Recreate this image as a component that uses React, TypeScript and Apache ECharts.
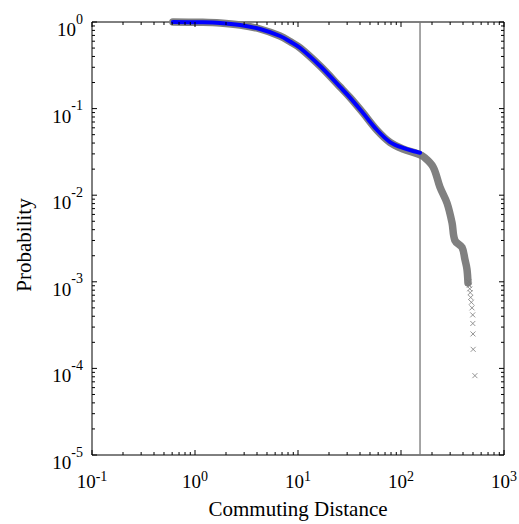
import React, { useEffect, useRef } from "react";
import * as echarts from "echarts";

// ---- data ----
const xTickValues = [0.1, 1, 10, 100, 1000];
const yTickValues = [1e-5, 1e-4, 1e-3, 1e-2, 1e-1, 1];
const tickMultipliers = [2, 3, 4, 5, 6, 7, 8, 9];

// empirical CCDF (dense grey band of markers)
const bandDistance = [0.61, 1.12, 1.75, 2.74, 4.28, 6.69, 8.36, 10.5, 16.4, 25.6, 32.0, 42.8, 58.5, 78.2, 104.6, 146, 167, 205, 239, 280, 313, 334, 391, 418, 437, 447];
const bandProbability = [1.0, 0.992, 0.974, 0.923, 0.83, 0.689, 0.595, 0.501, 0.31, 0.178, 0.134, 0.089, 0.0562, 0.0407, 0.0342, 0.0300, 0.0276, 0.0212, 0.0124, 0.0081, 0.0048, 0.003, 0.0025, 0.0018, 0.0014, 0.00097];

// sparse tail markers
const tailDistance = [455, 460, 465, 470, 475, 482, 489, 497, 498, 500, 502, 522];
const tailProbability = [0.001, 0.00091, 0.00083, 0.00075, 0.00066, 0.00058, 0.0005, 0.000415, 0.00033, 0.00025, 0.000166, 0.0000825];

// fitted curve (blue)
const fitDistance = [0.61, 1.12, 1.75, 2.74, 4.28, 6.69, 8.36, 10.5, 16.4, 25.6, 32.0, 42.8, 58.5, 78.2, 104.6, 146, 153];
const fitProbability = [1.0, 0.992, 0.974, 0.923, 0.83, 0.689, 0.595, 0.501, 0.31, 0.178, 0.134, 0.089, 0.0566, 0.0411, 0.0351, 0.0313, 0.031];

const cutoffDistance = 153;

const FONT = "'Liberation Serif', 'Times New Roman', serif";

function powLabel(v: number) {
  const e = Math.round(Math.log10(v));
  return `{b|10}{s|${e}}`;
}

const richX = {
  b: { fontSize: 19, fontFamily: FONT, color: "#000", lineHeight: 22, verticalAlign: "bottom" },
  s: { fontSize: 14, fontFamily: FONT, color: "#000", lineHeight: 14, verticalAlign: "top" },
};
const richY = {
  b: { fontSize: 19, fontFamily: FONT, color: "#000", lineHeight: 27, verticalAlign: "bottom" },
  s: { fontSize: 14, fontFamily: FONT, color: "#000", lineHeight: 14, verticalAlign: "top" },
};

export default function App() {
  const ref = useRef<HTMLDivElement>(null);
  useEffect(() => {
    if (!ref.current) return;
    const chart = echarts.init(ref.current, undefined, { renderer: "svg" });

    const xTicks: number[][] = [];
    xTickValues.forEach((v, i) => {
      xTicks.push([v, 1]);
      if (i < xTickValues.length - 1) tickMultipliers.forEach((m) => xTicks.push([m * v, 0]));
    });
    const yTicks: number[][] = [];
    yTickValues.forEach((v, i) => {
      yTicks.push([v, 1]);
      if (i < yTickValues.length - 1) tickMultipliers.forEach((m) => yTicks.push([m * v, 0]));
    });

    const option: any = {
      animation: false,
      backgroundColor: "#fff",
      grid: {
        left: 92,
        right: 15,
        top: 22,
        bottom: 69,
        show: true,
        borderColor: "#000",
        borderWidth: 1,
        backgroundColor: "#fff",
        containLabel: false,
        outerBoundsMode: "none",
      },
      xAxis: {
        type: "log",
        logBase: 10,
        min: 0.1,
        max: 1000,
        splitNumber: 4,
        name: "Commuting Distance",
        nameLocation: "middle",
        nameGap: 43,
        nameTextStyle: { fontFamily: FONT, fontSize: 21, color: "#000" },
        axisLine: { show: false },
        axisTick: { show: false },
        splitLine: { show: false },
        axisLabel: { margin: 14, formatter: powLabel, rich: richX },
      },
      yAxis: {
        type: "log",
        logBase: 10,
        min: 1e-5,
        max: 1,
        splitNumber: 5,
        name: "Probability",
        nameLocation: "middle",
        nameGap: 58,
        nameTextStyle: { fontFamily: FONT, fontSize: 21, color: "#000", padding: [0, 13, 0, 0] },
        axisLine: { show: false },
        axisTick: { show: false },
        splitLine: { show: false },
        axisLabel: { margin: 9, formatter: powLabel, rich: richY, padding: [7, 0, 0, 0] },
      },
      series: [
        {
          type: "line",
          data: bandDistance.map((x, i) => [x, bandProbability[i]]),
          symbol: "none",
          smooth: 0.35,
          clip: false,
          lineStyle: { color: "#808080", width: 7.5, cap: "round", join: "round" },
          z: 2,
        },
        {
          type: "scatter",
          data: tailDistance.map((x, i) => [x, tailProbability[i]]),
          symbol: "path://M0,0L10,10M10,0L0,10",
          symbolSize: 5,
          itemStyle: { color: "none", borderColor: "#7a7a7a", borderWidth: 1 },
          z: 2,
        },
        {
          type: "line",
          data: [
            [cutoffDistance, 1e-5],
            [cutoffDistance, 1],
          ],
          symbol: "none",
          lineStyle: { color: "#777", width: 1.3 },
          z: 3,
        },
        {
          type: "line",
          data: fitDistance.map((x, i) => [x, fitProbability[i]]),
          symbol: "none",
          smooth: 0.35,
          clip: false,
          lineStyle: { color: "#0000ff", width: 4, cap: "round", join: "round" },
          z: 4,
        },
        {
          type: "custom",
          silent: true,
          z: 5,
          data: xTicks.map((t) => [t[0], 1e-5, t[1]]),
          renderItem: (_p: any, api: any) => {
            const v = api.value(0);
            const len = api.value(2) ? 5 : 3;
            const b = api.coord([v, 1e-5]);
            const t = api.coord([v, 1]);
            return {
              type: "group",
              children: [
                { type: "line", shape: { x1: b[0], y1: b[1], x2: b[0], y2: b[1] - len }, style: { stroke: "#000", lineWidth: 1 } },
                { type: "line", shape: { x1: t[0], y1: t[1], x2: t[0], y2: t[1] + len }, style: { stroke: "#000", lineWidth: 1 } },
              ],
            };
          },
        },
        {
          type: "custom",
          silent: true,
          z: 5,
          data: yTicks.map((t) => [0.1, t[0], t[1]]),
          renderItem: (_p: any, api: any) => {
            const v = api.value(1);
            const len = api.value(2) ? 5 : 3;
            const l = api.coord([0.1, v]);
            const r = api.coord([1000, v]);
            return {
              type: "group",
              children: [
                { type: "line", shape: { x1: l[0], y1: l[1], x2: l[0] + len, y2: l[1] }, style: { stroke: "#000", lineWidth: 1 } },
                { type: "line", shape: { x1: r[0], y1: r[1], x2: r[0] - len, y2: r[1] }, style: { stroke: "#000", lineWidth: 1 } },
              ],
            };
          },
        },
      ],
    };
    chart.setOption(option);
    return () => chart.dispose();
  }, []);
  return <div ref={ref} style={{ width: 519, height: 524, position: "absolute", left: 0, top: 0 }} />;
}
